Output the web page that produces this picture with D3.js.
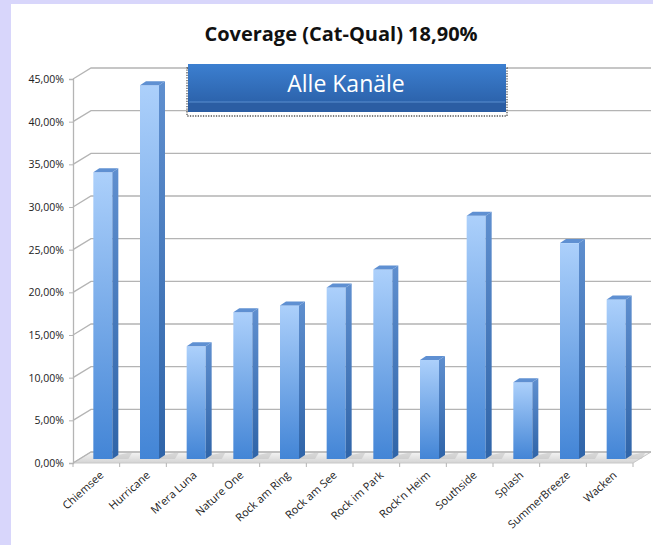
<!DOCTYPE html>
<html><head><meta charset="utf-8">
<script src="https://cdn.jsdelivr.net/npm/d3@7"></script>
<style>html,body{margin:0;padding:0;background:#d8d6fb;}svg{display:block;}</style>
</head><body>
<svg id="chart" width="653" height="545"></svg>
<script>
const categories = ["Chiemsee","Hurricane","M'era Luna","Nature One","Rock am Ring","Rock am See","Rock im Park","Rock'n Heim","Southside","Splash","SummerBreeze","Wacken"];
const coverage = [33.6, 43.8, 13.2, 17.2, 18.0, 20.1, 22.2, 11.6, 28.5, 9.0, 25.3, 18.7];
const yTicks = [0,5,10,15,20,25,30,35,40,45];
const titleText = "Coverage (Cat-Qual) 18,90%";
const legendText = "Alle Kanäle";

const svg = d3.select("#chart");
const font = "'Open Sans', 'Liberation Sans', sans-serif";
const defs = svg.append("defs");

svg.append("rect").attr("x",11).attr("y",4).attr("width",642).attr("height",541).attr("fill","#ffffff");

const depthX = 18, depthY = -11;
const x = d3.scaleBand().domain(categories).range([73,633]).paddingInner(0).paddingOuter(0);
const yFront = d3.scaleLinear().domain([0,45]).range([463,79]);
const yBack = d3.scaleLinear().domain([0,45]).range([463+depthY,79+depthY]);
const yBar = d3.scaleLinear().domain([0,45]).range([459,75]);

const fg = defs.append("linearGradient").attr("id","floorG").attr("x1",0).attr("y1",0).attr("x2",0).attr("y2",1);
fg.append("stop").attr("offset","0%").attr("stop-color","#f4f4f4");
fg.append("stop").attr("offset","100%").attr("stop-color","#d4d4d4");
const x0 = x.range()[0], x1 = x.range()[1];
svg.append("path")
  .attr("d",`M${x0},${yFront(0)}L${x1},${yFront(0)}L${x1+depthX},${yBack(0)}L${x0+depthX},${yBack(0)}Z`)
  .attr("fill","url(#floorG)").attr("stroke","#c8c8c8").attr("stroke-width",1);

const grid = svg.append("g");
yTicks.forEach(t => {
  grid.append("path")
    .attr("d",`M${x0},${yFront(t)}L${x0+depthX},${yBack(t)}L${x1+depthX},${yBack(t)}`)
    .attr("fill","none").attr("stroke","#b4b4b4").attr("stroke-width",1.3);
});

const yAxis = d3.axisLeft(yFront).tickValues(yTicks).tickSize(4).tickPadding(5)
  .tickFormat(d => d3.format(".2f")(d).replace(".", ",") + "%");
const gy = svg.append("g").attr("transform",`translate(${x0},0)`).call(yAxis);
gy.select(".domain").attr("stroke","#b4b4b4").attr("stroke-width",1.3);
gy.selectAll(".tick line").attr("stroke","#b4b4b4");
gy.selectAll("text").attr("font-family",font).attr("font-size",10.5).attr("fill","#222");

const xAxis = d3.axisBottom(x).tickSize(0).tickFormat("");
const gx = svg.append("g").attr("transform",`translate(0,${yFront(0)})`).call(xAxis);
gx.select(".domain").remove();
const bounds = categories.map((c,i)=>x(c)).concat([x1]);
gx.selectAll(".bnd").data(bounds).enter().append("line")
  .attr("x1",d=>d).attr("x2",d=>d).attr("y1",0).attr("y2",4).attr("stroke","#b4b4b4");
svg.append("g").selectAll("text").data(categories).enter().append("text")
  .attr("transform",d=>`translate(${x(d)+x.bandwidth()/2+6},${yFront(0)+11}) rotate(-42)`)
  .attr("text-anchor","end").attr("dominant-baseline","middle")
  .attr("font-family",font).attr("font-size",11).attr("fill","#222")
  .text(d=>d);

const bg = defs.append("linearGradient").attr("id","barG").attr("x1",0).attr("y1",0).attr("x2",0).attr("y2",1);
bg.append("stop").attr("offset","0%").attr("stop-color","#acd0fb");
bg.append("stop").attr("offset","100%").attr("stop-color","#4385d6");
const sg = defs.append("linearGradient").attr("id","sideG").attr("x1",0).attr("y1",0).attr("x2",0).attr("y2",1);
sg.append("stop").attr("offset","0%").attr("stop-color","#5f8fcf");
sg.append("stop").attr("offset","100%").attr("stop-color","#2f64a8");
const bw = 19, bdx = 6, bdy = -4;
const bars = svg.append("g").selectAll("g").data(categories).enter().append("g");
bars.each(function(c,i){
  const g = d3.select(this);
  const left = x(c) + x.bandwidth()/2 - 3;
  const top = yBar(coverage[i]), bot = yBar(0);
  g.append("path").attr("d",`M${left+bw},${bot}L${left+bw+bdx+10},${bot}L${left+bw+bdx+14},${bot+bdy-3}L${left+bw+bdx},${bot+bdy}Z`)
    .attr("fill","#bdbdbd").attr("opacity",0.5);
  g.append("rect").attr("x",left).attr("y",top).attr("width",bw).attr("height",bot-top).attr("fill","url(#barG)");
  g.append("path").attr("d",`M${left+bw},${top}L${left+bw+bdx},${top+bdy}L${left+bw+bdx},${bot+bdy}L${left+bw},${bot}Z`)
    .attr("fill","url(#sideG)");
  g.append("path").attr("d",`M${left},${top}L${left+bdx},${top+bdy}L${left+bw+bdx},${top+bdy}L${left+bw},${top}Z`)
    .attr("fill","#5f90d2");
});

svg.append("text").attr("x",341).attr("y",41).attr("text-anchor","middle")
  .attr("font-family",font).attr("font-weight","bold").attr("font-size",20).attr("fill","#111")
  .text(titleText);

const lg = defs.append("linearGradient").attr("id","legG").attr("x1",0).attr("y1",0).attr("x2",0).attr("y2",1);
lg.append("stop").attr("offset","0%").attr("stop-color","#3c7fd0");
lg.append("stop").attr("offset","100%").attr("stop-color","#2c63ac");
const leg = svg.append("g");
leg.append("rect").attr("x",187).attr("y",68).attr("width",320).attr("height",48)
  .attr("fill","none").attr("stroke","#555").attr("stroke-width",1.3).attr("stroke-dasharray","1.3,1.3");
leg.append("rect").attr("x",188).attr("y",64).attr("width",318).attr("height",48).attr("fill","#2b5da3");
leg.append("rect").attr("x",188).attr("y",64).attr("width",318).attr("height",38).attr("fill","url(#legG)");
leg.append("line").attr("x1",189).attr("x2",505).attr("y1",102).attr("y2",102).attr("stroke","#5b8fd0").attr("stroke-width",1);
leg.append("text").attr("x",346).attr("y",86).attr("text-anchor","middle").attr("dominant-baseline","middle")
  .attr("font-family",font).attr("font-size",23).attr("fill","#ffffff").text(legendText);
</script>
</body></html>
